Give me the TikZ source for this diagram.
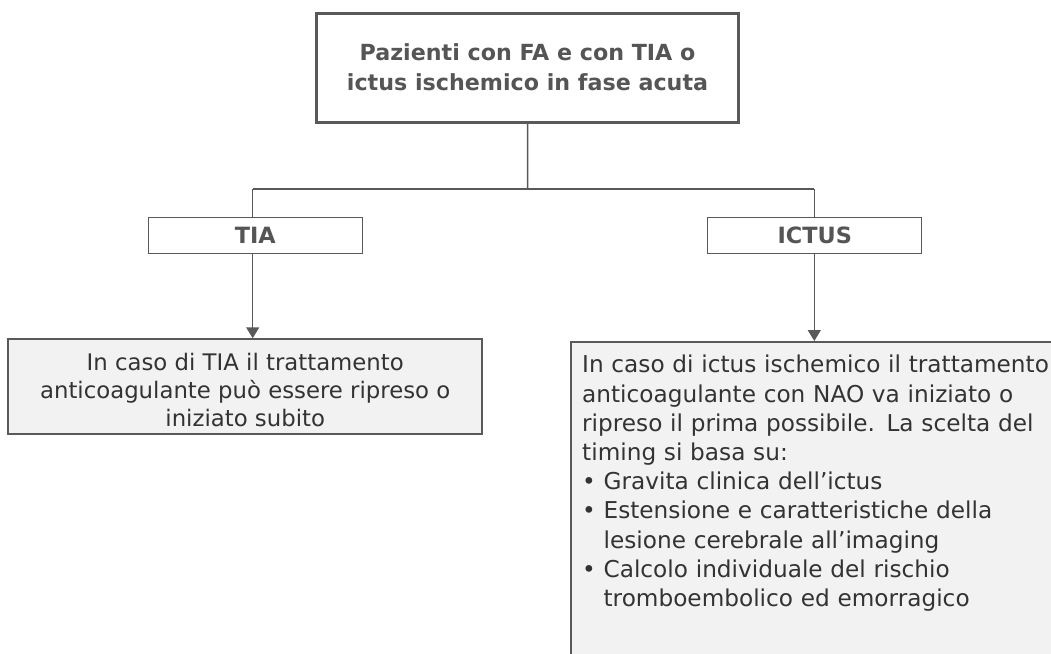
\documentclass[tikz,border=0pt]{standalone}
\usepackage{fontspec}
\setmainfont{DejaVu Sans}
\usetikzlibrary{arrows.meta}
\definecolor{linegray}{HTML}{595959}
\definecolor{titlegray}{HTML}{555555}
\definecolor{textgray}{HTML}{333333}
\definecolor{boxfill}{HTML}{F2F2F2}
\tikzset{
  topbox/.style={draw=linegray, line width=3pt, fill=white, inner sep=0pt},
  labelbox/.style={draw=linegray, line width=1.5pt, fill=white, inner sep=0pt,
    font=\fontsize{22.4}{26}\selectfont\bfseries, text=titlegray},
  infobox/.style={draw=linegray, line width=1.5pt, fill=boxfill, inner sep=0pt},
  conn/.style={draw=linegray, line width=1.5pt},
  arr/.style={conn, -{Triangle[width=13pt,length=11pt]}},
  bodytext/.style={text=textgray, inner sep=0pt},
}
\begin{document}
\begin{tikzpicture}[x=1pt,y=-1pt]
\useasboundingbox (0,0) rectangle (1051,653);
\clip (0,0) rectangle (1051,653);
\fill[white] (0,0) rectangle (1051,653);
% boxes
\node[topbox, minimum width=422pt, minimum height=109pt] (top) at (527.5,67.5) {};
\node[text=titlegray, align=center, font=\fontsize{22.2}{30}\selectfont\bfseries] (toptext) at (527.5,67) {Pazienti con FA e con TIA o\\ictus ischemico in fase acuta};
\node[labelbox, minimum width=214pt, minimum height=36pt] (tia) at (255.3,235.3) {TIA};
\node[labelbox, minimum width=214pt, minimum height=36pt] (ictus) at (814.7,235.3) {ICTUS};
\node[infobox, minimum width=474pt, minimum height=95pt] (left) at (245.2,386.5) {};
\node[bodytext, align=center, font=\fontsize{22.8}{27.8}\selectfont] (lefttext) at (245.2,390) {In caso di TIA il trattamento\\anticoagulante può essere ripreso o\\iniziato subito};
\node[infobox, anchor=north west, minimum width=700pt, minimum height=400pt] (right) at (570,341) {};
\node[bodytext, anchor=north west, text width=500pt, align=left,
  font=\fontsize{23.2}{29.2}\selectfont] (righttext) at (582,355) {%
In caso di ictus ischemico il trattamento\\
anticoagulante con NAO va iniziato o\\
ripreso il prima possibile. La scelta del\\
timing si basa su:\\
• Gravita clinica dell’ictus\\
• Estensione e caratteristiche della\\
\phantom{• }lesione cerebrale all’imaging\\
• Calcolo individuale del rischio\\
\phantom{• }tromboembolico ed emorragico};
% connectors
\coordinate (j) at (527.7,189);
\coordinate (jl) at (252.7,189);
\coordinate (jr) at (814.3,189);
\draw[conn] (top.south) -- (j);
\draw[conn] (jl) -- (jr);
\draw[conn] (jl) -- (jl |- tia.north);
\draw[conn] (jr) -- (jr |- ictus.north);
\draw[arr] (jl |- tia.south) -- (jl |- left.north);
\draw[arr] (jr |- ictus.south) -- (jr |- right.north);
\end{tikzpicture}
\end{document}
